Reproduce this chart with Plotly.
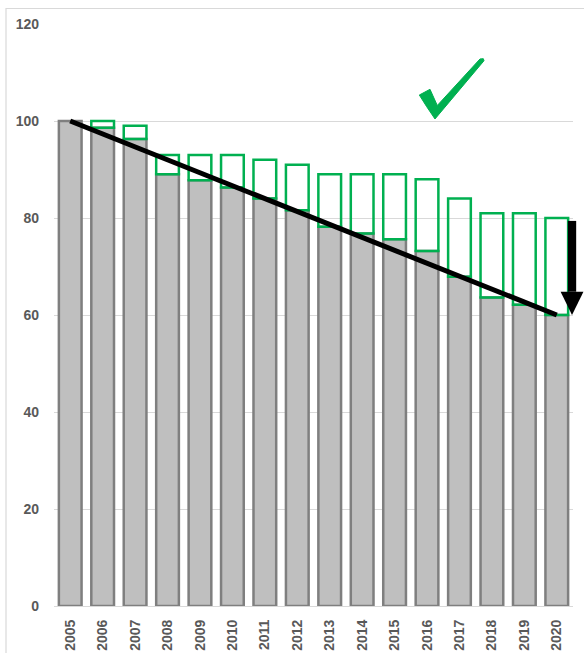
import plotly.graph_objects as go

# Index values per year (2005 = 100)
years = list(range(2005, 2021))
actual = [100, 98.6, 96.3, 89.0, 87.8, 86.3, 84.0, 81.6, 78.2, 76.8, 75.6, 73.2, 67.9, 63.6, 62.1, 60.0]
target = [100, 100, 99, 93, 93, 93, 92, 91, 89, 89, 89, 88, 84, 81, 81, 80]
y_ticks = [0, 20, 40, 60, 80, 100, 120]

GREY_FILL = "#BFBFBF"
GREY_EDGE = "#7F7F7F"
GREEN = "#00B050"
TEXT = "#595959"
GRID = "#D9D9D9"
FONT = "Liberation Sans, Arial, sans-serif"

# gap between target and actual, drawn as an outlined segment on top
gap = [t - a if t - a > 0 else None for t, a in zip(target, actual)]

fig = go.Figure()
fig.add_bar(x=years, y=actual, width=0.7,
            marker=dict(color=GREY_FILL, line=dict(color=GREY_EDGE, width=2.5)),
            showlegend=False)
fig.add_bar(x=years, y=gap, base=actual, width=0.7,
            marker=dict(color="rgba(0,0,0,0)", line=dict(color=GREEN, width=2.5)),
            showlegend=False)

# straight trend from the first to the last actual value
fig.add_scatter(x=[years[0], years[-1]], y=[actual[0], actual[-1]], mode="lines",
                line=dict(color="black", width=5), showlegend=False, hoverinfo="skip")

x0, x1 = years[0] - 0.5, years[-1] + 0.5
ymax = y_ticks[-1]

def px(xv):
    return (xv - x0) / (x1 - x0)

def py(yv):
    return yv / ymax

# downward arrow beside the last bar: from its target to its actual value
ax = px(years[-1] + 0.47)
shaft_half = 0.008
head_half = 0.022
head_len = 4.8
shapes = [
    dict(type="rect", xref="paper", yref="paper",
         x0=ax - shaft_half, x1=ax + shaft_half,
         y0=py(actual[-1] + head_len), y1=py(target[-1] - 0.6),
         fillcolor="black", line=dict(width=0), layer="above"),
    dict(type="path", xref="paper", yref="paper",
         path=f"M{ax - head_half},{py(actual[-1] + head_len)} L{ax + head_half},{py(actual[-1] + head_len)} L{ax},{py(actual[-1])} Z",
         fillcolor="black", line=dict(width=0), layer="above"),
]

# green tick mark above the bars
L, R, T, B = 54, 573, 24, 606
def pp(x, y):
    return f"{(x - L) / (R - L):.4f},{(B - y) / (B - T):.4f}"

tick_pts = [(419.3, 95), (430, 89.3), (437.3, 105.5), (480, 59), (483.3, 58.7),
            (484, 60.7), (435, 119), (426.7, 106.7)]
tick_path = "M" + " L".join(pp(x, y) for x, y in tick_pts) + " Z"
shapes.append(dict(type="path", xref="paper", yref="paper", path=tick_path,
                   fillcolor=GREEN, line=dict(color=GREEN, width=1), layer="above"))

# light frame around the whole chart
shapes.append(dict(type="rect", xref="paper", yref="paper",
                   x0=(6 - L) / (R - L), x1=(590 - L) / (R - L),
                   y0=(B - 660) / (B - T), y1=(B - 8.5) / (B - T),
                   line=dict(color=GRID, width=1.2), fillcolor="rgba(0,0,0,0)", layer="below"))

fig.update_layout(
    width=584, height=653,
    margin=dict(l=L, r=584 - R, t=T, b=653 - B),
    paper_bgcolor="white", plot_bgcolor="white",
    barmode="overlay", bargap=0.3,
    shapes=shapes,
    font=dict(family=FONT, color=TEXT),
)
fig.update_xaxes(range=[x0, x1], tickmode="array", tickvals=years,
                 ticktext=[str(y) for y in years], tickangle=-90,
                 tickfont=dict(size=14, color=TEXT, family=FONT, weight="bold"),
                 showgrid=False, showline=True, linecolor=GRID, linewidth=1,
                 ticks="", ticklabelstandoff=7, automargin=False, fixedrange=True)
fig.update_yaxes(range=[0, ymax], tickmode="array", tickvals=y_ticks,
                 tickfont=dict(size=14, color=TEXT, family=FONT, weight="bold"),
                 showgrid=True, gridcolor=GRID, gridwidth=1, zeroline=False,
                 showline=False, ticks="", ticklabelstandoff=14, automargin=False,
                 fixedrange=True)

fig.write_html("out.html")
